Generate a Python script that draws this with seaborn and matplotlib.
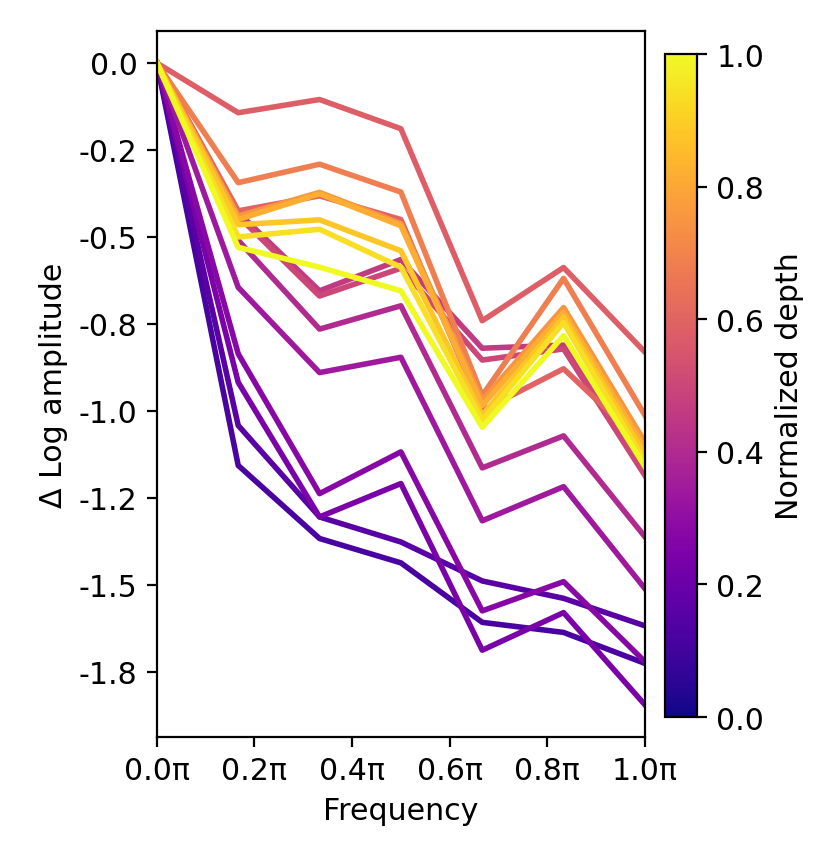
import matplotlib

matplotlib.use("Agg")
import matplotlib.pyplot as plt
import matplotlib.ticker as mticker
import numpy as np
import pandas as pd
import seaborn as sns

# frequency samples (fractions of pi)
FREQ_FRAC = [0, 1 / 6, 2 / 6, 3 / 6, 4 / 6, 5 / 6, 1]

# normalized depth of each curve
DEPTHS = [0.12, 0.16, 0.24, 0.28, 0.34, 0.40, 0.46, 0.50,
          0.58, 0.60, 0.68, 0.75, 0.82, 0.88, 0.94, 1.00]

# delta log amplitude per curve
AMP_A = [0, -1.157, -1.367, -1.437, -1.608, -1.637, -1.726]
AMP_B = [0, -1.042, -1.305, -1.377, -1.489, -1.539, -1.618]
AMP_P1 = [0, -0.918, -1.305, -1.209, -1.688, -1.580, -1.845]
AMP_P2 = [0, -0.836, -1.238, -1.118, -1.575, -1.491, -1.721]
AMP_M0 = [0, -0.645, -0.890, -0.846, -1.316, -1.218, -1.511]
AMP_M1 = [0, -0.510, -0.765, -0.698, -1.164, -1.072, -1.362]
AMP_G1 = [0, -0.430, -0.655, -0.565, -0.820, -0.811, -1.166]
AMP_G2 = [0, -0.440, -0.670, -0.590, -0.854, -0.822, -1.186]
AMP_T1 = [0, -0.143, -0.105, -0.189, -0.741, -0.588, -0.831]
AMP_C1 = [0, -0.425, -0.382, -0.450, -0.999, -0.879, -1.100]
AMP_T2 = [0, -0.344, -0.291, -0.371, -0.956, -0.619, -1.013]
AMP_C2 = [0, -0.440, -0.372, -0.462, -0.970, -0.703, -1.090]
AMP_C3 = [0, -0.450, -0.376, -0.468, -0.985, -0.717, -1.109]
AMP_C4 = [0, -0.465, -0.451, -0.540, -1.013, -0.731, -1.128]
AMP_C5 = [0, -0.500, -0.478, -0.587, -1.028, -0.746, -1.147]
AMP_Y = [0, -0.530, -0.587, -0.655, -1.047, -0.784, -1.160]

CURVES = [AMP_A, AMP_B, AMP_P1, AMP_P2, AMP_M0, AMP_M1, AMP_G1, AMP_G2,
          AMP_T1, AMP_C1, AMP_T2, AMP_C2, AMP_C3, AMP_C4, AMP_C5, AMP_Y]


def build_frame():
    rows = []
    for depth, amps in zip(DEPTHS, CURVES):
        for f, a in zip(FREQ_FRAC, amps):
            rows.append({"freq": f * np.pi, "amp": a, "depth": depth})
    return pd.DataFrame(rows)


def main():
    plt.rcParams["font.size"] = 10.8
    df = build_frame()

    fig = plt.figure(figsize=(4.15, 4.31), dpi=200)
    ax = fig.add_axes([0.189, 0.144, 0.588, 0.819])
    cax = fig.add_axes([0.801, 0.167, 0.0386, 0.769])

    sns.lineplot(data=df, x="freq", y="amp", hue="depth", palette="plasma",
                 hue_norm=(0, 1), legend=False, linewidth=2, ax=ax)

    ax.set_xlim(0, np.pi)
    xt = np.arange(0, 1.01, 0.2)
    ax.set_xticks(xt * np.pi)
    ax.set_xticklabels([f"{v:.1f}π" for v in xt])
    ax.yaxis.set_major_locator(mticker.MultipleLocator(0.25))
    ax.yaxis.set_major_formatter(mticker.FormatStrFormatter("%.1f"))
    ax.set_xlabel("Frequency")
    ax.set_ylabel("Δ Log amplitude")

    sm = plt.cm.ScalarMappable(cmap="plasma", norm=plt.Normalize(0, 1))
    cb = fig.colorbar(sm, cax=cax)
    cb.set_label("Normalized depth")

    fig.savefig("out.png", dpi=200)
    plt.close(fig)


if __name__ == "__main__":
    main()
